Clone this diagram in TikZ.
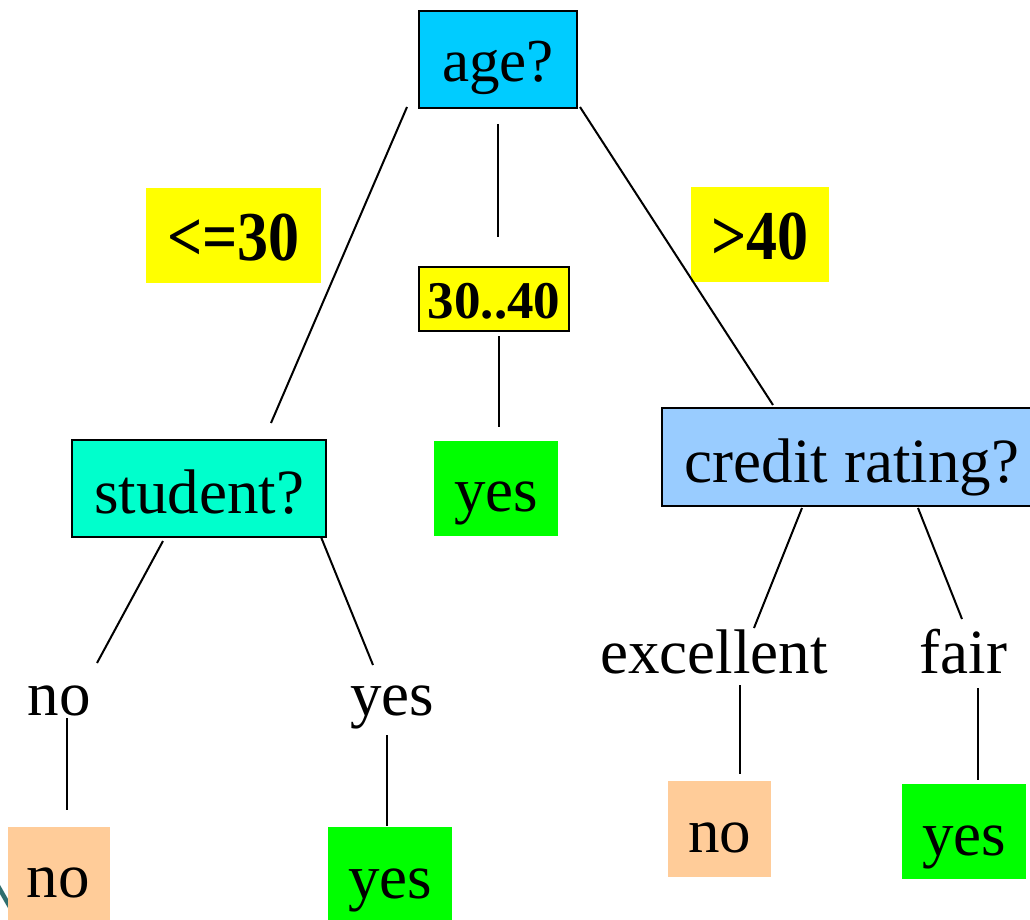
\documentclass[tikz,border=0pt]{standalone}
\usepackage{fontspec}
\usepackage{graphicx}
\setmainfont{Liberation Serif}
\definecolor{agecol}{HTML}{00CCFF}
\definecolor{studcol}{HTML}{00FFCC}
\definecolor{credcol}{HTML}{99CCFF}
\definecolor{leafyes}{HTML}{00FF00}
\definecolor{leafno}{HTML}{FFCC99}
\definecolor{tagcol}{HTML}{FFFF00}
\definecolor{decocol}{HTML}{2F6E6E}
\tikzset{
  big/.style={font=\fontsize{63}{70}\selectfont},
  tagfont/.style={font=\fontsize{62}{70}\selectfont\bfseries},
  box/.style={draw=black, line width=2.2pt, inner sep=0pt, text depth=0pt, align=center},
  leaf/.style={inner sep=0pt, text depth=0pt, align=center, big},
  tag/.style={fill=tagcol, inner sep=0pt, text depth=0pt, align=center, tagfont},
  word/.style={inner sep=0pt, anchor=base, big},
  branch/.style={line width=2pt, black},
}
\begin{document}
\begin{tikzpicture}[x=1pt, y=-1pt]
\useasboundingbox (0,0) rectangle (1030,920);
\clip (0,0) rectangle (1030,920);
\fill[white] (0,0) rectangle (1030,920);

% slide decoration in the lower left corner
\draw[decocol, line width=4.5pt] (-10,872) -- (14,914);

% root and inner tests
\node[box, fill=agecol, big, font=\fontsize{61}{70}\selectfont, minimum width=158pt, minimum height=97pt, text height=45pt] (age) at (498,59.5) {age?};
\node[box, fill=studcol, big, minimum width=254pt, minimum height=97pt, text height=49pt] (student) at (199,488.5) {student?};
\node[box, fill=credcol, big, minimum width=380pt, minimum height=98pt, text height=50pt] (credit) at (852,457) {credit rating?};

% branch tags of the age test
\node[tag, minimum width=175pt, minimum height=95pt, text height=49pt] (le30) at (233.5,235.5) {\scalebox{1}[1.13]{<=30}};
\node[box, fill=tagcol, font=\fontsize{53}{60}\selectfont\bfseries, minimum width=150pt, minimum height=64pt, text height=38pt] (mid) at (494,299) {30..40};
\node[tag, minimum width=138pt, minimum height=95pt, text height=49pt] (gt40) at (760,234.5) {\scalebox{1}[1.13]{>40}};

% branch words
\node[word] (sno) at (59,715) {no};
\node[word] (syes) at (392,715) {yes};
\node[word] (cexc) at (714,673) {excellent};
\node[word] (cfair) at (963.5,673) {fair};

% leaves
\node[leaf, fill=leafyes, minimum width=124pt, minimum height=95pt, text height=45pt] (midyes) at (496,488.5) {yes};
\node[leaf, fill=leafno, minimum width=102pt, minimum height=96pt, text height=44pt] (lno) at (58.5,875) {no};
\node[leaf, fill=leafyes, minimum width=124pt, minimum height=96pt, text height=46pt] (lyes) at (390,875) {yes};
\node[leaf, fill=leafno, minimum width=103pt, minimum height=96pt, text height=46pt] (rno) at (719.5,829) {no};
\node[leaf, fill=leafyes, minimum width=124pt, minimum height=95pt, text height=47pt] (ryes) at (964,831.5) {yes};

% end points of the branch lines
\coordinate (a1) at (407,107);  \coordinate (a2) at (271,423);
\coordinate (b1) at (498,124);  \coordinate (b2) at (498,237);
\coordinate (c1) at (580,107);  \coordinate (c2) at (773,405);
\coordinate (d1) at (499,336);  \coordinate (d2) at (499,427);
\coordinate (e1) at (163,541);  \coordinate (e2) at (97,663);
\coordinate (f1) at (321,537);  \coordinate (f2) at (373,665);
\coordinate (g1) at (67,718);   \coordinate (g2) at (67,810);
\coordinate (h1) at (387,735);  \coordinate (h2) at (387,826);
\coordinate (i1) at (802,508);  \coordinate (i2) at (754,628);
\coordinate (j1) at (918,508);  \coordinate (j2) at (962,619);
\coordinate (k1) at (740,685);  \coordinate (k2) at (740,774);
\coordinate (l1) at (978,688);  \coordinate (l2) at (978,780);

\draw[branch] (a1) -- (a2);
\draw[branch] (b1) -- (b2);
\draw[branch] (c1) -- (c2);
\draw[branch] (d1) -- (d2);
\draw[branch] (e1) -- (e2);
\draw[branch] (f1) -- (f2);
\draw[branch] (g1) -- (g2);
\draw[branch] (h1) -- (h2);
\draw[branch] (i1) -- (i2);
\draw[branch] (j1) -- (j2);
\draw[branch] (k1) -- (k2);
\draw[branch] (l1) -- (l2);
\end{tikzpicture}
\end{document}
